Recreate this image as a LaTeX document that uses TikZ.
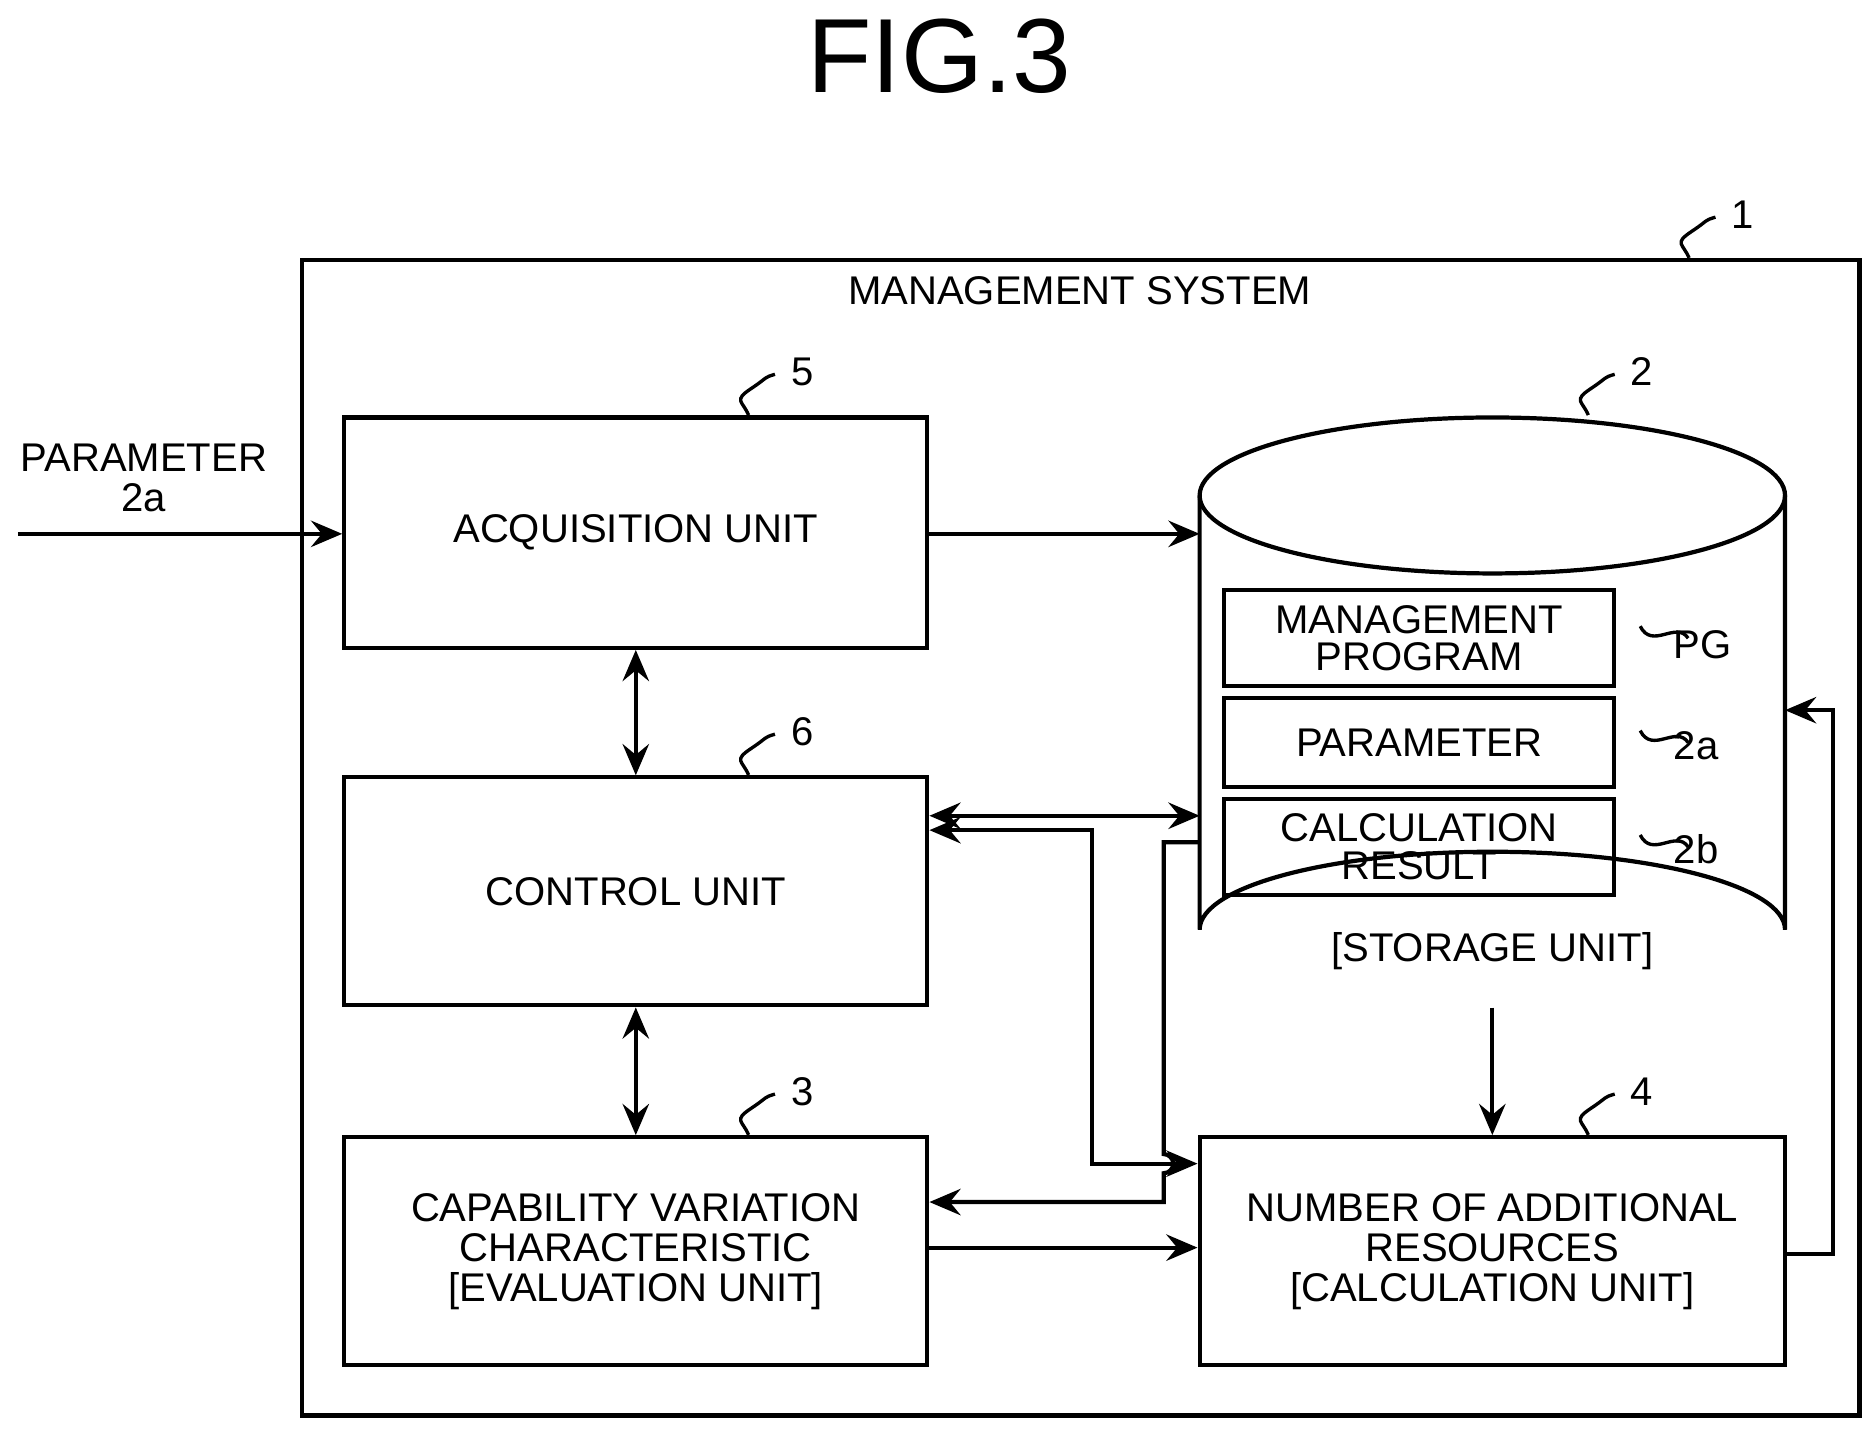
\documentclass[tikz,border=0pt]{standalone}
\usepackage{fontspec}
\setmainfont{Liberation Sans}
\usetikzlibrary{arrows.meta,positioning,calc}

\tikzset{
  box/.style={draw,line width=1pt,inner sep=0pt,align=center,font=\fontsize{9.5}{9.5}\selectfont},
  sub/.style={draw,line width=1pt,inner sep=0pt,align=center,minimum width=32.5mm,font=\fontsize{9.5}{9}\selectfont},
  link/.style={line width=1pt,-{Stealth[length=2.6mm,width=2.2mm,inset=0.9mm]}},
  both/.style={line width=1pt,{Stealth[length=2.6mm,width=2.2mm,inset=0.9mm]}-{Stealth[length=2.6mm,width=2.2mm,inset=0.9mm]}},
  lbl/.style={font=\fontsize{9.5}{9.5}\selectfont}
}
\newcommand{\refsq}[3]{% squiggle leader and reference mark
  \draw[line width=0.8pt] (#1,#2) .. controls +(-0.5mm,1.2mm) and +(-1.5mm,-1mm) .. +(0.2mm,2.2mm)
     .. controls +(1.5mm,1mm) and +(-1mm,-0.3mm) .. +(2.2mm,3.4mm);
  \node[lbl,anchor=west] at ($(#1,#2)+(2.3mm,3.6mm)$) {#3};}

\begin{document}
\begin{tikzpicture}[x=0.1mm,y=-0.1mm]
  \useasboundingbox (0,0) rectangle (1563,1193);
  \node[font=\fontsize{25}{25}\selectfont] (title) at (783,47) {FIG.3};

  % outer system
  \draw[line width=1pt] (252,217) rectangle (1550,1180);
  \node[lbl] (sys) at (900,242) {MANAGEMENT SYSTEM};
  \refsq{1408}{215}{1}

  % units
  \node[box,minimum width=48.6mm,minimum height=19.2mm] (acq) at (530,444) {ACQUISITION UNIT};
  \node[box,minimum width=48.6mm,minimum height=19mm] (ctrl) at (530,743) {CONTROL UNIT};
  \node[box,minimum width=48.6mm,minimum height=19mm] (eval) at (530,1043)
    {CAPABILITY VARIATION\\CHARACTERISTIC\\{[}EVALUATION UNIT{]}};
  \node[box,minimum width=48.8mm,minimum height=19mm] (calc) at (1244,1043)
    {NUMBER OF ADDITIONAL\\RESOURCES\\{[}CALCULATION UNIT{]}};
  \refsq{624}{346}{5}
  \refsq{624}{646}{6}
  \refsq{624}{946}{3}
  \refsq{1324}{946}{4}

  % storage cylinder
  \draw[line width=1pt,fill=white] (1000,413) -- (1000,775) arc[x radius=244,y radius=65,start angle=180,end angle=360]
     -- (1488,413);
  \draw[line width=1pt] (1244,413) ellipse[x radius=244,y radius=65];
  \coordinate (stL) at (1000,600);
  \node[lbl] (stlbl) at (1244,793) {[STORAGE UNIT]};
  \refsq{1324}{346}{2}
  \node[sub,minimum height=8mm] (prog) at (1183,532) {MANAGEMENT\\PROGRAM};
  \node[sub,minimum height=7.4mm] (par) at (1183,619) {PARAMETER};
  \node[sub,minimum height=8mm] (res) at (1183,706) {CALCULATION\\RESULT};
  \draw[line width=0.8pt] (prog.east)++(2mm,1mm) .. controls +(1mm,-2mm) and +(-1mm,1.5mm) .. +(4mm,-1mm);
  \draw[line width=0.8pt] (par.east)++(2mm,1mm) .. controls +(1mm,-2mm) and +(-1mm,1.5mm) .. +(4mm,-1mm);
  \draw[line width=0.8pt] (res.east)++(2mm,1mm) .. controls +(1mm,-2mm) and +(-1mm,1.5mm) .. +(4mm,-1mm);
  \node[lbl,anchor=west] (pg) at (1383,537) {PG};
  \node[lbl,anchor=west] (p2a) at (1383,622) {2a};
  \node[lbl,anchor=west] (p2b) at (1383,708) {2b};

  % input
  \node[lbl,align=center] (inp) at (120,398) {PARAMETER\\2a};
  \coordinate (src) at (15,445);
  \draw[link] (src) -- (src -| acq.west);

  % connections
  \coordinate (stA) at (1000,445);
  \draw[link] (acq.east |- stA) -- (stA);
  \draw[both] (acq.south) -- (ctrl.north);
  \draw[both] (ctrl.south) -- (eval.north);
  \draw[both] (ctrl.east |- 0,680) -- (1000,680);
  \draw[both] (ctrl.east |- 0,692) -- (910,692) -- (910,970) -- (calc.west |- 0,970);
  \draw[link] (1000,702) -- (970,702) -- (970,962) arc[radius=8,start angle=90,end angle=-90,x radius=8,y radius=-8] -- (970,1002) -- (eval.east |- 0,1002);
  \draw[link] (eval.east |- 0,1040) -- (calc.west |- 0,1040);
  \draw[link] (1244,840) -- (calc.north);
  \draw[link] (calc.east |- 0,1045) -- (1528,1045) -- (1528,592) -- (1488,592);
\end{tikzpicture}
\end{document}
